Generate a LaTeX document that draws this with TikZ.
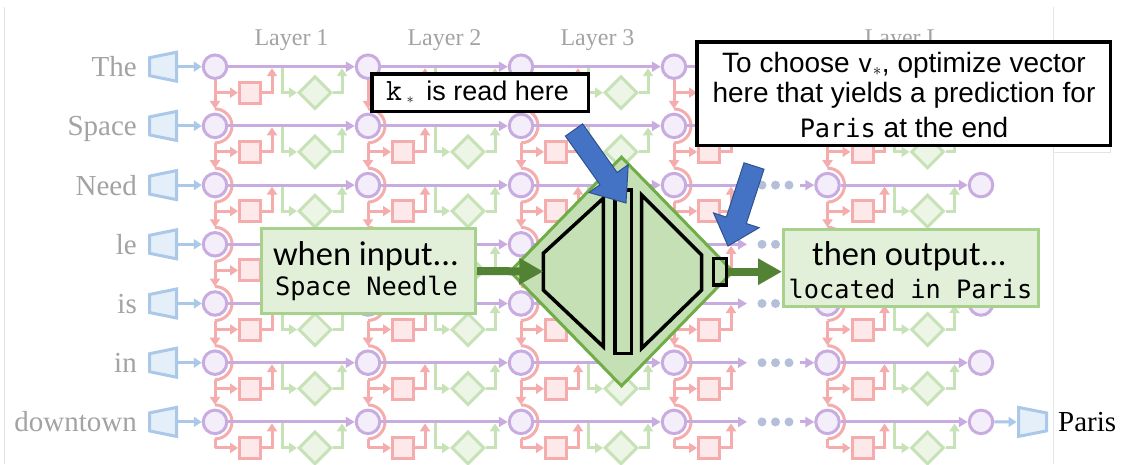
\documentclass[tikz,border=0pt]{standalone}
\usepackage{fontspec}
\setmainfont{Liberation Serif}
\newfontfamily\sansf{Liberation Sans}
\newfontfamily\calf{Carlito}
\newfontfamily\monof{DejaVu Sans Mono}
\usetikzlibrary{arrows.meta,shapes.geometric,calc}
\pgfdeclarelayer{bg}
\pgfdeclarelayer{paper}
\pgfsetlayers{paper,bg,main}

\definecolor{hpurple}{RGB}{200,172,224}
\definecolor{hfill}{RGB}{244,238,251}
\definecolor{attred}{RGB}{245,172,172}
\definecolor{attfill}{RGB}{253,233,233}
\definecolor{mlpgreen}{RGB}{200,226,184}
\definecolor{mlpfill}{RGB}{236,245,230}
\definecolor{embblue}{RGB}{170,200,232}
\definecolor{embfill}{RGB}{229,239,249}
\definecolor{dotgray}{RGB}{180,192,216}
\definecolor{tokgray}{RGB}{163,163,163}
\definecolor{boxgreen}{RGB}{169,209,142}
\definecolor{boxfill}{RGB}{226,240,217}
\definecolor{bigfill}{RGB}{197,224,180}
\definecolor{bigedge}{RGB}{112,173,71}
\definecolor{flowgreen}{RGB}{84,130,53}
\definecolor{callblue}{RGB}{68,114,196}
\definecolor{calledge}{RGB}{47,82,143}
\definecolor{framegray}{RGB}{228,228,228}

\newcommand\tokfont{\fontsize{29pt}{34pt}\selectfont}
\newcommand\layerfont{\fontsize{24pt}{28pt}\selectfont}
\newcommand\noteAfont{\sansf\fontsize{27pt}{32pt}\selectfont}
\newcommand\noteBfont{\sansf\fontsize{28pt}{33pt}\selectfont}
\newcommand\factfont{\calf\fontsize{34.5pt}{40pt}\selectfont}
\newcommand\codefont{\monof\fontsize{25.3pt}{30pt}\selectfont}
\newcommand\keyfont{\ttfamily\fontsize{31pt}{34pt}\selectfont}

\tikzset{
  hstate/.style={circle,draw=hpurple,fill=hfill,line width=3pt,minimum size=23.5pt,inner sep=0pt},
  attnbox/.style={rectangle,draw=attred,fill=attfill,line width=3pt,minimum size=21pt,inner sep=0pt},
  mlpbox/.style={diamond,draw=mlpgreen,fill=mlpfill,line width=3pt,minimum width=33pt,minimum height=33pt,inner sep=0pt},
  hflow/.style={draw=hpurple,line width=3pt,-{Triangle[length=9pt,width=10pt]}},
  aline/.style={draw=attred,line width=3pt},
  aflow/.style={aline,-{Triangle[length=8pt,width=10pt]}},
  mflow/.style={draw=mlpgreen,line width=3pt,-{Triangle[length=8pt,width=10pt]}},
  eflow/.style={draw=embblue,line width=3pt,-{Triangle[length=8pt,width=10pt]}},
  embed/.style={draw=embblue,fill=embfill,line width=3pt,line join=miter},
  gapdot/.style={circle,fill=dotgray,minimum size=9pt,inner sep=0pt},
  token/.style={text=tokgray,font=\tokfont,inner sep=0pt},
  layerlbl/.style={text=tokgray,font=\layerfont,inner sep=0pt,anchor=base},
  callout/.style={draw=black,fill=white,line width=3.5pt,inner sep=0pt},
  factbox/.style={draw=boxgreen,fill=boxfill,line width=3pt,inner sep=0pt},
  textline/.style={anchor=base,inner sep=0pt},
  core/.style={draw=black,line width=3.5pt},
  bigflow/.style={draw=flowgreen,line width=8pt,-{Triangle[length=24pt,width=25pt]}},
  pointer/.style={draw=calledge,fill=callblue,line width=1pt,line join=miter},
}

\begin{document}
\begin{tikzpicture}[x=1pt,y=-1pt]
\useasboundingbox (0,0) rectangle (1122,464);
\begin{pgfonlayer}{paper}
  \fill[white] (0,0) rectangle (1122,464);
  % faint frame of the network panel
  \draw[framegray,line width=1pt] (4,7) -- (4,464);
  \draw[framegray,line width=1pt] (1053,7) -- (1053,464);
  \draw[framegray,line width=1pt] (1053,152) -- (1110,152) -- (1110,147);
\end{pgfonlayer}

% hidden states: one column per layer boundary
\foreach \cc/\cx in {0/215,1/368,2/521,3/674,4/827.5,5/981}{
  \foreach \i in {0,...,6}{
    \pgfmathsetmacro\yy{66.7+59.2*\i}
    \node[hstate] (h-\cc-\i) at (\cx,\yy) {};
  }
}

% attention: red boxes fed by the states of all earlier tokens
\foreach \cc/\cx in {0/215,1/368,2/521,3/674,4/827.5}{
  \foreach \i in {0,...,6}{
    \pgfmathsetmacro\yy{66.7+59.2*\i}
    \coordinate (br-\cc-\i) at (\cx,\yy+26);
    \coordinate (aup-\cc-\i) at (\cx+57,\yy+1.5);
    \node[attnbox] (att-\cc-\i) at (\cx+35,\yy+26) {};
    \begin{pgfonlayer}{bg}
      \draw[aflow] (br-\cc-\i) -- (att-\cc-\i);
      \draw[aflow] (att-\cc-\i) -| (aup-\cc-\i);
    \end{pgfonlayer}
  }
  \begin{pgfonlayer}{bg}
    \draw[aline] (h-\cc-0) -- (br-\cc-0);
    \foreach \i [evaluate=\i as \j using int(\i-1)] in {1,...,6}{
      \pgfmathsetmacro\yy{66.7+59.2*\i}
      \coordinate (atop-\cc-\i) at (\cx,\yy-17);
      \coordinate (abot-\cc-\i) at (\cx,\yy+17);
      \draw[aflow] (br-\cc-\j) -- (atop-\cc-\i);
      \draw[aline] (atop-\cc-\i) arc[start angle=90,end angle=-90,radius=17pt];
      \draw[aline] (abot-\cc-\i) -- (br-\cc-\i);
    }
  \end{pgfonlayer}
}

% MLP: green diamonds
\foreach \cc/\cx in {0/215,1/368,2/521,4/827.5}{
  \foreach \i in {0,...,6}{
    \pgfmathsetmacro\yy{66.7+59.2*\i}
    \coordinate (mdn-\cc-\i) at (\cx+67,\yy);
    \coordinate (mup-\cc-\i) at (\cx+127,\yy+1.5);
    \node[mlpbox] (mlp-\cc-\i) at (\cx+100,\yy+26) {};
    \begin{pgfonlayer}{bg}
      \draw[mflow] (mdn-\cc-\i) |- (mlp-\cc-\i);
      \draw[mflow] (mlp-\cc-\i) -| (mup-\cc-\i);
    \end{pgfonlayer}
  }
}

% residual stream, embeddings and tokens
\foreach \i/\tok in {0/The,1/Space,2/Need,3/le,4/is,5/in,6/downtown}{
  \pgfmathsetmacro\yy{66.7+59.2*\i}
  \coordinate (gapin-\i) at (747,\yy);
  \coordinate (gapout-\i) at (800,\yy);
  \node[gapdot] (dA-\i) at (762,\yy) {};
  \node[gapdot] (dB-\i) at (775.5,\yy) {};
  \node[gapdot] (dC-\i) at (789,\yy) {};
  \coordinate (emb-\i) at (178,\yy);
  \draw[embed] (149.5,\yy-9) -- (176.5,\yy-14.5) -- (176.5,\yy+14.5) -- (149.5,\yy+9) -- cycle;
  \node[token,anchor=base east] (tok-\i) at (137,\yy+10) {\tok};
  \begin{pgfonlayer}{bg}
    \draw[hflow] (h-0-\i) -- (h-1-\i);
    \draw[hflow] (h-1-\i) -- (h-2-\i);
    \draw[hflow] (h-2-\i) -- (h-3-\i);
    \draw[hflow] (h-3-\i) -- (gapin-\i);
    \draw[hflow] (gapout-\i) -- (h-4-\i);
    \draw[hflow] (h-4-\i) -- (h-5-\i);
  \end{pgfonlayer}
  \draw[eflow] (emb-\i) -- (h-0-\i);
}

% unembedding of the last token
\coordinate (dec-in) at (1016.5,421.9);
\draw[eflow] (h-5-6) -- (dec-in);
\draw[embed] (1018.5,407.4) -- (1046.5,412.9) -- (1046.5,430.9) -- (1018.5,436.4) -- cycle;
\node[anchor=base west,font=\tokfont,inner sep=0pt] (pred) at (1058,431.9) {Paris};

% layer captions
\node[layerlbl] (lay-1) at (291.5,45) {Layer 1};
\node[layerlbl] (lay-2) at (444.5,45) {Layer 2};
\node[layerlbl] (lay-3) at (597.5,45) {Layer 3};
\node[layerlbl] (lay-L) at (903,45) {Layer L};

% the edited MLP, enlarged
\node[diamond,draw=bigedge,fill=bigfill,line width=3pt,minimum width=224pt,minimum height=230pt,inner sep=0pt] (edit) at (621.5,271.5) {};
\draw[core] (543.3,253.3) -- (603.3,198.3) -- (603.3,346.7) -- (543.3,290) -- cycle;
\draw[core] (615,190) rectangle (631.7,353.3);
\draw[core] (641.7,195) -- (701.7,255) -- (701.7,290) -- (641.7,348.3) -- cycle;
\node[core,minimum width=13pt,minimum height=26.5pt,inner sep=0pt] (vslot) at (720,271.7) {};
\coordinate (kin) at (543.3,271.5);

% input and output facts
\node[factbox,minimum width=214pt,minimum height=85pt] (inbox) at (368.5,271) {};
\node[textline,font=\factfont] (in-a) at (366,265) {when input...};
\node[textline,font=\codefont] (in-b) at (366.5,295) {Space Needle};
\node[factbox,minimum width=255pt,minimum height=77pt] (outbox) at (911,268) {};
\node[textline,font=\factfont] (out-a) at (909.5,265) {then output...};
\node[textline,font=\codefont] (out-b) at (910.5,298) {located in Paris};

\draw[bigflow] (inbox.east) -- (kin);
\draw[bigflow] (vslot.east) -- (vslot.east -| outbox.west);

% callouts
\node[callout,minimum width=216.5pt,minimum height=37.5pt] (kread) at (480,92.5) {};
\node[textline,font=\noteAfont,anchor=base west] (kread-t) at (386,100) {{\keyfont k}\,{\fontsize{22pt}{24pt}\selectfont$_{\ast}$}\, is read here};
\node[callout,minimum width=413.5pt,minimum height=103.5pt] (vopt) at (903.5,93.5) {};
\node[textline,font=\noteBfont] (vopt-a) at (904,72) {To choose {\codefont v}{\fontsize{24pt}{26pt}\selectfont$_{\ast}$}, optimize vector};
\node[textline,font=\noteBfont] (vopt-b) at (904,102) {here that yields a prediction for};
\node[textline,font=\noteBfont] (vopt-c) at (904,137.5) {{\codefont Paris} at the end};

% block arrows pointing at the key and the value
\draw[pointer] (582.6,123.9) -- (617.1,172.5) -- (628.2,164.7) -- (626,203) -- (589.0,192.5) -- (600.0,184.7) -- (565.4,136.1) -- cycle;
\draw[pointer] (764.0,169.2) -- (746.3,223.5) -- (759.1,227.7) -- (728,246) -- (713.5,212.9) -- (726.3,217.1) -- (744.0,162.8) -- cycle;
\end{tikzpicture}
\end{document}
